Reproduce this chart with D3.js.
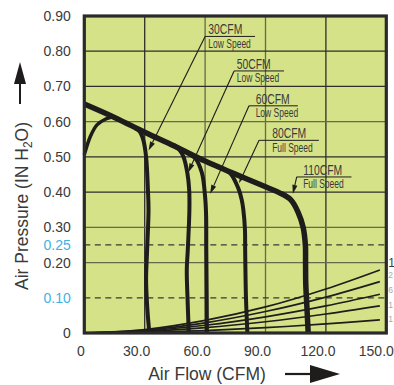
<!DOCTYPE html>
<html><head><meta charset="utf-8">
<script src="https://cdn.jsdelivr.net/npm/d3@7"></script>
<style>body{margin:0;background:#fff}svg{display:block}</style>
</head><body><svg id="c" width="394" height="385"></svg>
<script>
// ---------- data ----------
const xTicks = [0, 30, 60, 90, 120, 150];
const xTickLabels = ["0", "30.0", "60.0", "90.0", "120.0", "150.0"];
const yTicks = [0, 0.1, 0.2, 0.25, 0.3, 0.4, 0.5, 0.6, 0.7, 0.8, 0.9];
const yTickLabels = ["0", "0.10", "0.20", "0.25", "0.30", "0.40", "0.50", "0.60", "0.70", "0.80", "0.90"];
const refLines = [0.1, 0.25];
const vGrid = [30, 60, 90, 120];
const hGrid = [0.2, 0.3, 0.4, 0.5, 0.6, 0.7, 0.8];

// envelope (max pressure) flowing into the 110CFM full speed curve
const envelopeCfm = [0, 15, 30, 45, 60, 75, 90, 97, 102.6, 106.1, 108.7, 109.8, 109.9, 110.0, 110.6, 111.2];
const envelopeP   = [0.650, 0.612, 0.570, 0.530, 0.488, 0.451, 0.415, 0.398, 0.378, 0.344, 0.300, 0.250, 0.200, 0.140, 0.070, 0];
// low flow rising branch
const riseCfm = [0, 3, 6.3, 10.4, 14];
const riseP   = [0.506, 0.558, 0.591, 0.607, 0.614];
// fan speed curves
const c30Cfm = [25, 27.5, 29.3, 30.7, 31.6, 31.9, 31.2, 30.7, 31.3, 32.3];
const c30P   = [0.582, 0.572, 0.548, 0.500, 0.406, 0.349, 0.236, 0.151, 0.070, 0];
const c50Cfm = [44, 47, 49.2, 51.2, 52.1, 52.2, 51.4, 50.9, 51.3, 51.9];
const c50P   = [0.535, 0.522, 0.501, 0.454, 0.406, 0.349, 0.236, 0.179, 0.094, 0];
const c60Cfm = [52, 55, 58.4, 60.0, 60.5, 60.6, 60.8, 60.9];
const c60P   = [0.508, 0.497, 0.455, 0.387, 0.335, 0.236, 0.100, 0];
const c80Cfm = [68, 72.4, 76.5, 78.2, 79.0, 79.8, 79.9, 80.3, 81.0];
const c80P   = [0.468, 0.454, 0.411, 0.378, 0.349, 0.293, 0.236, 0.100, 0];
// system impedance curves
const systemCfm = [0, 30, 60, 90, 120, 146.8];
const system1 = [0, 0.010, 0.036, 0.074, 0.125, 0.179];
const system2 = [0, 0.008, 0.029, 0.061, 0.102, 0.146];
const system3 = [0, 0.006, 0.022, 0.046, 0.077, 0.110];
const system4 = [0, 0.004, 0.015, 0.032, 0.054, 0.077];
const system5 = [0, 0.002, 0.007, 0.015, 0.026, 0.037];
const rightLabels = ["10", "2", "6", "1", "1"];
const rightLabelP = [0.199, 0.168, 0.126, 0.082, 0.043];

// annotations
const annNames  = ["30CFM", "50CFM", "60CFM", "80CFM", "110CFM"];
const annSpeeds = ["Low Speed", "Low Speed", "Low Speed", "Full Speed", "Full Speed"];
const annStartCfm = [60.0, 74.4, 81.8, 86.8, 105.5];
const annStartP   = [0.842, 0.744, 0.645, 0.547, 0.443];
const annEndCfm   = [84.8, 99.2, 106.1, 116.5, 132.7];
const annTextCfm  = [61.6, 75.7, 85.1, 93.3, 108.7];
const annTipCfm   = [31.9, 51.6, 62.5, 76.8, 103.6];
const annTipP     = [0.518, 0.456, 0.395, 0.425, 0.395];

// ---------- drawing ----------
const svg = d3.select("#c");
const x = d3.scaleLinear().domain([0, 150]).range([84.3, 386.3]);
const y = d3.scaleLinear().domain([0, 0.9]).range([333, 16]);
const INK = "#1f1c1c", TXT = "#3a3a3a", BLUE = "#3fb2e4";
const FONT = "'Liberation Sans', Arial, Helvetica, sans-serif";

svg.append("rect").attr("x", x(0)).attr("y", y(0.9))
  .attr("width", x(150) - x(0)).attr("height", y(0) - y(0.9)).attr("fill", "#d5e287");

const darkV = new Set([30, 120]), darkH = new Set([0.4, 0.5, 0.7, 0.8]);
svg.append("g").selectAll("line").data(vGrid).join("line")
  .attr("x1", d => x(d)).attr("x2", d => x(d)).attr("y1", y(0)).attr("y2", y(0.9))
  .attr("stroke", d => darkV.has(d) ? "#2e2e2a" : "#66694a").attr("stroke-width", 1.3);
svg.append("g").selectAll("line").data(hGrid).join("line")
  .attr("y1", d => y(d)).attr("y2", d => y(d)).attr("x1", x(0)).attr("x2", x(150))
  .attr("stroke", d => darkH.has(d) ? "#2e2e2a" : "#66694a").attr("stroke-width", 1.3);
svg.append("g").selectAll("line").data(refLines).join("line")
  .attr("y1", d => y(d)).attr("y2", d => y(d)).attr("x1", x(0)).attr("x2", x(150))
  .attr("stroke", "#3a3a36").attr("stroke-width", 1.2).attr("stroke-dasharray", "6,4.5");

const line = d3.line().x(d => x(d[0])).y(d => y(d[1])).curve(d3.curveCatmullRom.alpha(0.5));
const zip = (a, b) => a.map((v, i) => [v, b[i]]);

[system1, system2, system3, system4, system5].forEach(s => {
  svg.append("path").attr("d", line(zip(systemCfm, s)))
    .attr("fill", "none").attr("stroke", INK).attr("stroke-width", 1.7);
});

[[c30Cfm, c30P], [c50Cfm, c50P], [c60Cfm, c60P], [c80Cfm, c80P]].forEach(c => {
  svg.append("path").attr("d", line(zip(c[0], c[1])))
    .attr("fill", "none").attr("stroke", INK).attr("stroke-width", 4).attr("stroke-linejoin", "round");
});
svg.append("path").attr("d", line(zip(riseCfm, riseP)))
  .attr("fill", "none").attr("stroke", INK).attr("stroke-width", 3.5);
svg.append("path").attr("d", line(zip(envelopeCfm, envelopeP)))
  .attr("fill", "none").attr("stroke", INK).attr("stroke-width", 5.5).attr("stroke-linejoin", "round");

// annotations
annNames.forEach((name, i) => {
  const sx = x(annStartCfm[i]), sy = y(annStartP[i]);
  const tx = x(annTipCfm[i]), ty = y(annTipP[i]);
  const ang = Math.atan2(ty - sy, tx - sx);
  const L = 9, Wd = 2.6;
  const bx = tx - L * Math.cos(ang), by = ty - L * Math.sin(ang);
  svg.append("line").attr("x1", sx).attr("y1", sy).attr("x2", bx).attr("y2", by)
    .attr("stroke", INK).attr("stroke-width", 1.1);
  svg.append("polygon").attr("points", [
    [tx, ty],
    [bx + Wd * Math.sin(ang), by - Wd * Math.cos(ang)],
    [bx - Wd * Math.sin(ang), by + Wd * Math.cos(ang)]].map(p => p.join(",")).join(" "))
    .attr("fill", INK);
  svg.append("line").attr("x1", sx).attr("y1", sy).attr("x2", x(annEndCfm[i])).attr("y2", sy)
    .attr("stroke", INK).attr("stroke-width", 1);
  const t1 = svg.append("text").attr("x", x(annTextCfm[i])).attr("y", sy - 2)
    .attr("font-family", FONT).attr("font-size", 14).attr("fill", TXT).text(name);
  const t2 = svg.append("text").attr("x", x(annTextCfm[i])).attr("y", sy + 11.5)
    .attr("font-family", FONT).attr("font-size", 12.5).attr("fill", TXT).text(annSpeeds[i]);
  t1.attr("textLength", t1.node().getComputedTextLength() * 0.74).attr("lengthAdjust", "spacingAndGlyphs");
  t2.attr("textLength", t2.node().getComputedTextLength() * 0.68).attr("lengthAdjust", "spacingAndGlyphs");
});

// plot border
svg.append("rect").attr("x", x(0)).attr("y", y(0.9))
  .attr("width", x(150) - x(0)).attr("height", y(0) - y(0.9))
  .attr("fill", "none").attr("stroke", "#2a2a2a").attr("stroke-width", 3.2);

// axes
const xAxis = svg.append("g").attr("transform", `translate(0,${y(0)})`)
  .call(d3.axisBottom(x).tickValues(xTicks).tickFormat((d, i) => xTickLabels[i]).tickSize(0).tickPadding(13));
xAxis.select(".domain").remove();
xAxis.selectAll("text").attr("font-family", FONT).attr("font-size", 14).attr("fill", TXT)
  .attr("dx", d => d === 0 ? -4 : (d === 150 ? -10.5 : -8.5));

const yAxis = svg.append("g").attr("transform", `translate(${x(0)},0)`)
  .call(d3.axisLeft(y).tickValues(yTicks).tickFormat((d, i) => yTickLabels[i]).tickSize(0).tickPadding(13.5));
yAxis.select(".domain").remove();
yAxis.selectAll("text").attr("font-family", FONT).attr("font-size", 14)
  .attr("fill", d => refLines.includes(d) ? BLUE : TXT);

// right edge (cut off) labels
svg.append("g").selectAll("text").data(rightLabels).join("text")
  .attr("x", x(150) + 2).attr("y", (d, i) => y(rightLabelP[i]) + 4)
  .attr("font-family", FONT).attr("font-size", (d, i) => i === 0 ? 12 : 8.5)
  .attr("fill", (d, i) => i === 0 ? TXT : "#a9a9a9").text(d => d);

// titles
svg.append("text").attr("x", 207).attr("y", 380).attr("text-anchor", "middle")
  .attr("font-family", FONT).attr("font-size", 17.5).attr("fill", TXT).text("Air Flow (CFM)");
svg.append("line").attr("x1", 285).attr("x2", 312).attr("y1", 374).attr("y2", 374)
  .attr("stroke", INK).attr("stroke-width", 2.2);
svg.append("polygon").attr("points", "310,365 340,374 310,383").attr("fill", INK);

const yt = svg.append("text").attr("transform", "translate(28,206) rotate(-90)")
  .attr("text-anchor", "middle").attr("font-family", FONT).attr("font-size", 17.5).attr("fill", TXT);
yt.append("tspan").text("Air Pressure (IN H");
yt.append("tspan").attr("font-size", 12).attr("dy", 4).text("2");
yt.append("tspan").attr("dy", -4).text("O)");
svg.append("line").attr("x1", 20).attr("x2", 20).attr("y1", 104).attr("y2", 80)
  .attr("stroke", INK).attr("stroke-width", 2);
svg.append("polygon").attr("points", "20,62 14,84 26,84").attr("fill", INK);
</script></body></html>
